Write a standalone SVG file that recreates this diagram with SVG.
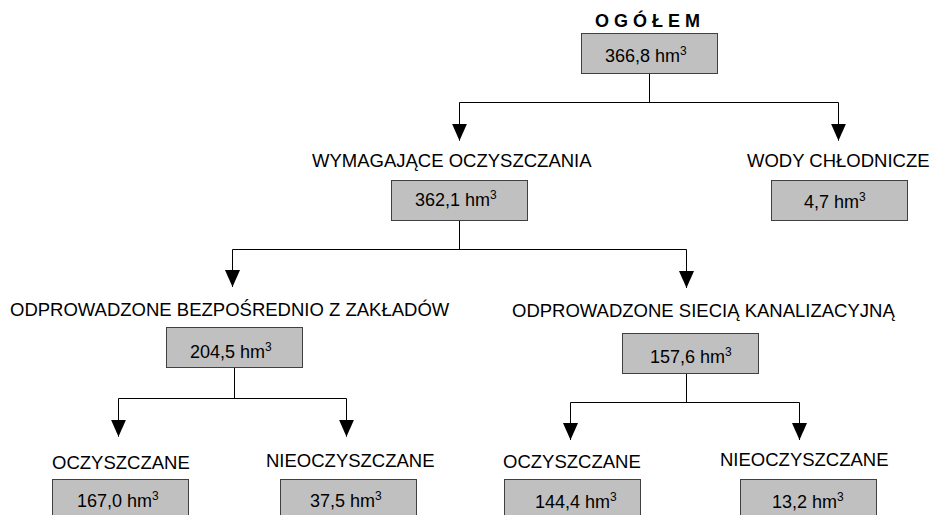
<svg xmlns="http://www.w3.org/2000/svg" width="932" height="515" viewBox="0 0 932 515">
<style>
.box{fill:#c0c0c0;stroke:#404040;stroke-width:1}
.lbl{font-family:"Liberation Sans",Arial,sans-serif;font-size:18.5px;fill:#000}
.val{font-family:"Liberation Sans",Arial,sans-serif;font-size:18px;fill:#000}
.sup{font-size:12px}
.ttl{font-family:"Liberation Sans",Arial,sans-serif;font-size:18px;font-weight:bold;fill:#000}
.ln{fill:none;stroke:#000;stroke-width:1}
</style>
<defs>
<marker id="ah" markerUnits="userSpaceOnUse" markerWidth="18" markerHeight="16" viewBox="0 0 18 16" refX="17" refY="8" orient="auto">
<path d="M0,0.5 L17,8 L0,15.5 Z" fill="#000"/>
</marker>
</defs>
<rect width="932" height="515" fill="#fff"/>
<g id="connectors">
<path class="ln" d="M649.5,73 V102.5 M459.5,102.5 H838.5"/>
<path class="ln" d="M459.5,102.5 V140.7" marker-end="url(#ah)"/>
<path class="ln" d="M838.5,102.5 V140.7" marker-end="url(#ah)"/>
<path class="ln" d="M459.5,220.5 V249.5 M232.5,249.5 H686.5"/>
<path class="ln" d="M232.5,249.5 V287" marker-end="url(#ah)"/>
<path class="ln" d="M686.5,249.5 V288" marker-end="url(#ah)"/>
<path class="ln" d="M234.5,367 V398.5 M118.5,398.5 H346.5"/>
<path class="ln" d="M118.5,398.5 V436.7" marker-end="url(#ah)"/>
<path class="ln" d="M346.5,398.5 V436.7" marker-end="url(#ah)"/>
<path class="ln" d="M686.5,373 V402.5 M570.5,402.5 H799.5"/>
<path class="ln" d="M570.5,402.5 V440" marker-end="url(#ah)"/>
<path class="ln" d="M799.5,402.5 V440" marker-end="url(#ah)"/>
</g>
<g id="n-ogolem">
<text class="ttl" x="595" y="27">O G Ó Ł E M</text>
<rect class="box" x="581.5" y="33.5" width="136" height="40"/>
<text class="val" x="605" y="62">366,8 hm<tspan class="sup" dy="-7">3</tspan></text>
</g>
<g id="n-wymagajace">
<text class="lbl" x="312" y="166.7">WYMAGAJĄCE OCZYSZCZANIA</text>
<rect class="box" x="391.5" y="180.5" width="136" height="40"/>
<text class="val" x="415" y="206">362,1 hm<tspan class="sup" dy="-7">3</tspan></text>
</g>
<g id="n-wody">
<text class="lbl" x="747" y="166.7">WODY CHŁODNICZE</text>
<rect class="box" x="771.5" y="180.5" width="136" height="40"/>
<text class="val" x="804" y="208">4,7 hm<tspan class="sup" dy="-7">3</tspan></text>
</g>
<g id="n-bezposrednio">
<text class="lbl" x="10" y="316">ODPROWADZONE BEZPOŚREDNIO Z ZAKŁADÓW</text>
<rect class="box" x="166.5" y="327.5" width="136" height="40"/>
<text class="val" x="190" y="357.7">204,5 hm<tspan class="sup" dy="-7">3</tspan></text>
</g>
<g id="n-siecia">
<text class="lbl" x="512" y="316.7">ODPROWADZONE SIECIĄ KANALIZACYJNĄ</text>
<rect class="box" x="622.5" y="333.5" width="136" height="40"/>
<text class="val" x="650" y="362.7">157,6 hm<tspan class="sup" dy="-7">3</tspan></text>
</g>
<g id="n-oczyszczane-1">
<text class="lbl" x="52" y="469.3">OCZYSZCZANE</text>
<rect class="box" x="52.5" y="479.5" width="136" height="40"/>
<text class="val" x="77" y="507">167,0 hm<tspan class="sup" dy="-7">3</tspan></text>
</g>
<g id="n-nieoczyszczane-1">
<text class="lbl" x="266" y="467.3">NIEOCZYSZCZANE</text>
<rect class="box" x="280.5" y="479.5" width="136" height="40"/>
<text class="val" x="310" y="507">37,5 hm<tspan class="sup" dy="-7">3</tspan></text>
</g>
<g id="n-oczyszczane-2">
<text class="lbl" x="503" y="468.3">OCZYSZCZANE</text>
<rect class="box" x="504.5" y="479.5" width="136" height="40"/>
<text class="val" x="535" y="508">144,4 hm<tspan class="sup" dy="-7">3</tspan></text>
</g>
<g id="n-nieoczyszczane-2">
<text class="lbl" x="720" y="465.7">NIEOCZYSZCZANE</text>
<rect class="box" x="740.5" y="479.5" width="136" height="40"/>
<text class="val" x="772" y="508">13,2 hm<tspan class="sup" dy="-7">3</tspan></text>
</g>
</svg>
